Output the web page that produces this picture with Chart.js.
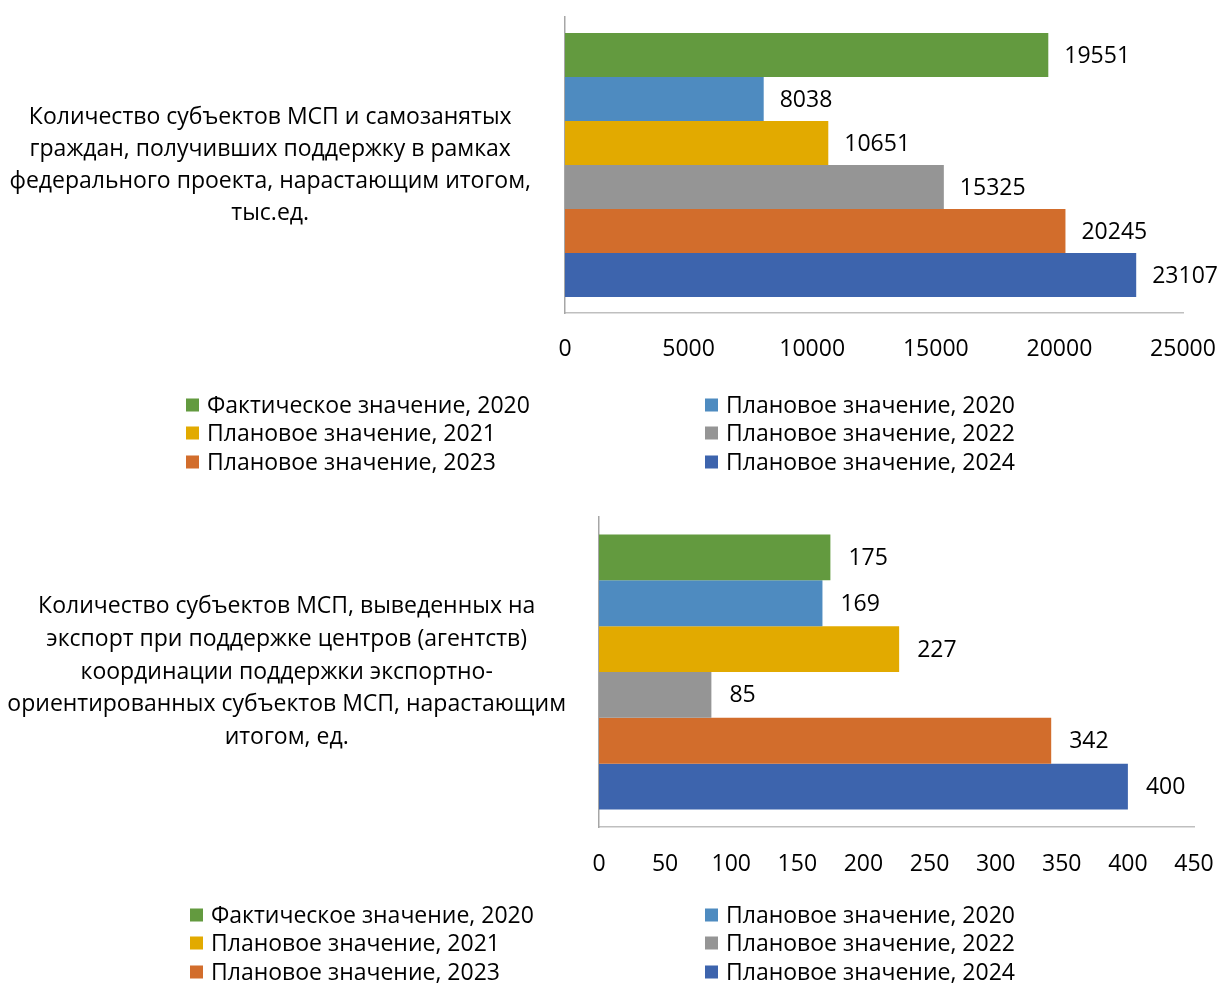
<!DOCTYPE html>
<html>
<head>
<meta charset="utf-8">
<script src="https://cdn.jsdelivr.net/npm/chart.js@4.4.1/dist/chart.umd.min.js"></script>
<style>
html,body{margin:0;padding:0;background:#fff;}
#wrap{position:relative;width:1217px;height:984px;overflow:hidden;}
canvas{position:absolute;left:0;}
</style>
</head>
<body>
<div id="wrap">
<canvas id="c1" width="1217" height="490" style="top:0"></canvas>
<canvas id="c2" width="1217" height="494" style="top:490px"></canvas>
</div>
<script>
// ---- data ----
const seriesLabels = [
  "Фактическое значение, 2020",
  "Плановое значение, 2020",
  "Плановое значение, 2021",
  "Плановое значение, 2022",
  "Плановое значение, 2023",
  "Плановое значение, 2024"
];
const seriesColors = ["#639A3F", "#4E8BC0", "#E2AA00", "#959595", "#D26D2C", "#3D64AD"];

const category1 = [["Количество субъектов МСП и самозанятых",
  "граждан, получивших поддержку в рамках",
  "федерального проекта, нарастающим итогом,",
  "тыс.ед."]];
const values1 = [19551, 8038, 10651, 15325, 20245, 23107];
const ticks1 = [0, 5000, 10000, 15000, 20000, 25000];

const category2 = [["Количество субъектов МСП, выведенных на",
  "экспорт при поддержке центров (агентств)",
  "координации поддержки экспортно-",
  "ориентированных субъектов МСП, нарастающим",
  "итогом, ед."]];
const values2 = [175, 169, 227, 85, 342, 400];
const ticks2 = [0, 50, 100, 150, 200, 250, 300, 350, 400, 450];

// ---- setup ----
const FONT = "'Open Sans', 'DejaVu Sans', sans-serif";
Chart.defaults.font.family = FONT;
Chart.defaults.color = "#000";

const valueLabels = {
  id: 'valueLabels',
  afterDatasetsDraw(chart, args, opts) {
    const ctx = chart.ctx;
    ctx.save();
    ctx.font = opts.size + "px " + FONT;
    ctx.fillStyle = "#000";
    ctx.textAlign = "left";
    ctx.textBaseline = "middle";
    chart.data.datasets.forEach((ds, i) => {
      chart.getDatasetMeta(i).data.forEach((el, j) => {
        ctx.fillText(String(ds.data[j]), el.x + opts.offset, el.y + 1);
      });
    });
    ctx.restore();
  }
};

const gridLegend = {
  id: 'gridLegend',
  afterDraw(chart, args, opts) {
    const ctx = chart.ctx;
    ctx.save();
    ctx.font = opts.size + "px " + FONT;
    ctx.textBaseline = "middle";
    ctx.textAlign = "left";
    chart.data.datasets.forEach((ds, i) => {
      const col = i % 2, row = Math.floor(i / 2);
      const x = opts.cols[col], y = opts.rows[row];
      ctx.fillStyle = ds.backgroundColor;
      ctx.fillRect(x, y - opts.box / 2, opts.box, opts.box);
      ctx.fillStyle = "#000";
      ctx.fillText(ds.label, x + opts.box + opts.gap, y + 1);
    });
    ctx.restore();
  }
};

function makeChart(id, cats, vals, tickVals, cfg) {
  const datasets = seriesLabels.map((lab, i) => ({
    label: lab,
    data: [vals[i]],
    backgroundColor: seriesColors[i],
    borderWidth: 0,
    categoryPercentage: cfg.catPct,
    barPercentage: 1.0
  }));
  return new Chart(document.getElementById(id), {
    type: 'bar',
    data: { labels: cats, datasets },
    plugins: [valueLabels, gridLegend],
    options: {
      indexAxis: 'y',
      responsive: false,
      animation: false,
      devicePixelRatio: 1,
      layout: { padding: cfg.padding },
      plugins: {
        legend: { display: false },
        tooltip: { enabled: false },
        valueLabels: { size: 23, offset: cfg.labelOffset },
        gridLegend: { size: 23, cols: cfg.legCols, rows: cfg.legRows, box: 13, gap: 8 }
      },
      scales: {
        x: {
          min: tickVals[0],
          max: tickVals[tickVals.length - 1],
          afterBuildTicks: (s) => { s.ticks = tickVals.map(v => ({ value: v })); },
          afterFit: (s) => { s.height = 60; s.paddingLeft = 0; s.paddingRight = 0; },
          grid: { display: false, drawTicks: false },
          border: { display: true, color: "#BFBFBF", width: 1.5 },
          ticks: { font: { size: 23 }, padding: cfg.xPad, color: "#000",
                   callback: (v) => String(v) }
        },
        y: {
          afterFit: (s) => { s.width = cfg.yWidth; s.paddingTop = 0; s.paddingBottom = 0; },
          grid: { display: false, drawTicks: false },
          border: { display: true, color: "#A6A6A6", width: 1.5 },
          ticks: {
            font: { size: 23, lineHeight: cfg.lineH },
            crossAlign: 'center',
            padding: cfg.yPad,
            color: "#000"
          }
        }
      }
    }
  });
}

makeChart('c1', category1, values1, ticks1, {
  catPct: 0.892, lineH: 1.39,
  padding: { top: 17, right: 34, bottom: 117, left: 0 },
  yWidth: 565, yPad: 34, xPad: 23, labelOffset: 16,
  legCols: [186, 705], legRows: [405, 433, 462]
});

makeChart('c2', category2, values2, ticks2, {
  catPct: 0.887, lineH: 1.43,
  padding: { top: 27, right: 23, bottom: 97, left: 0 },
  yWidth: 599, yPad: 33, xPad: 24, labelOffset: 18,
  legCols: [190, 705], legRows: [425, 453, 482]
});
</script>
</body>
</html>
